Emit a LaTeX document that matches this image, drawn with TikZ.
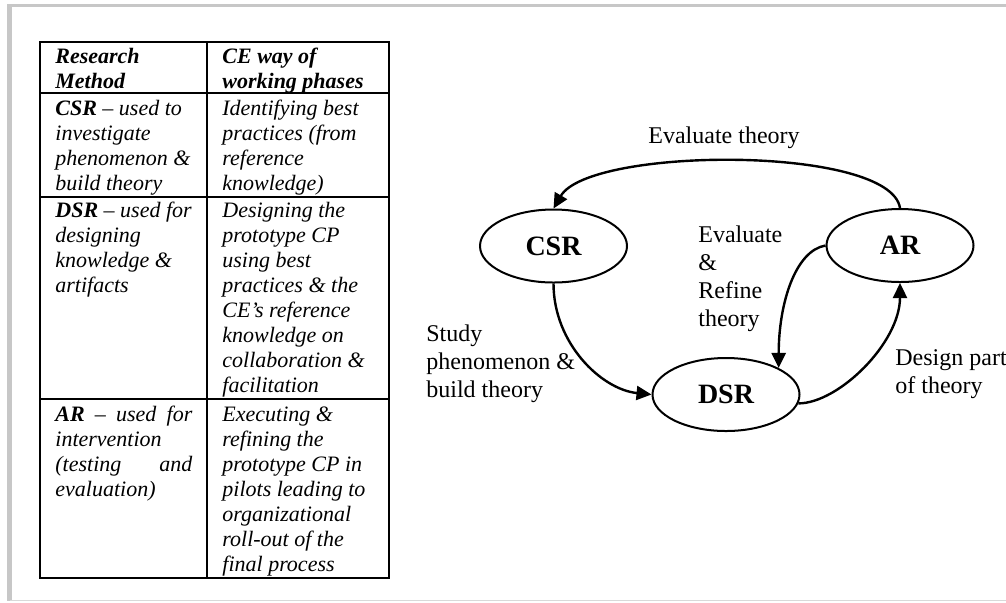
\documentclass[tikz,border=0pt]{standalone}
\usepackage{fontspec}
\setmainfont{Liberation Serif}
\usetikzlibrary{arrows.meta,shapes.geometric}

\begin{document}
\begin{tikzpicture}[x=0.5pt, y=-0.5pt,
    phase/.style={draw, ellipse, line width=1pt, minimum width=73.5pt, minimum height=36.5pt,
      inner sep=0pt, font=\fontsize{14}{16}\selectfont\bfseries},
    cell/.style={anchor=north west, inner sep=0pt, align=left,
      font=\fontsize{11}{12.5}\selectfont\itshape},
    lbl/.style={anchor=north west, inner sep=0pt, align=left,
      font=\fontsize{12}{14}\selectfont},
    flow/.style={line width=1.2pt, -{Triangle[length=7.5pt, width=7pt]}}
  ]
    \useasboundingbox (0,0) rectangle (1006,602);
    % page frame
    \draw[black!22, line width=1.5pt] (1006,5) -- (9.5,5);
    \draw[black!22, line width=2.5pt] (9.5,4) -- (9.5,601);
    \draw[black!15, line width=0.6pt] (9.5,600.5) -- (1006,600.5);

    % table
    \draw[line width=1pt] (40,42) rectangle (389,578);
    \draw[line width=1pt] (207,42) -- (207,578);
    \foreach \y in {93,197,399} {
      \draw[line width=1pt] (40,\y) -- (389,\y);
    }
    \node[cell, font=\fontsize{11}{12.5}\selectfont\bfseries\itshape] (hm) at (55,45.8)
      {\strut Research\\Method};
    \node[cell, font=\fontsize{11}{12.5}\selectfont\bfseries\itshape] (hp) at (222,45.8)
      {\strut CE way of\\working phases};
    \node[cell] (csrm) at (55,97.5)
      {\strut\textbf{CSR} -- used to\\investigate\\phenomenon \&\\build theory};
    \node[cell] (csrp) at (222,97.5)
      {\strut Identifying best\\practices (from\\reference\\knowledge)};
    \node[cell] (dsrm) at (55,199.2)
      {\strut\textbf{DSR} -- used for\\designing\\knowledge \&\\artifacts};
    \node[cell] (dsrp) at (222,199.2)
      {\strut Designing the\\prototype CP\\using best\\practices \& the\\CE’s reference\\knowledge on\\collaboration \&\\facilitation};
    \node[cell] (arm) at (55,403.2)
      {\strut\makebox[68.5pt][s]{\textbf{AR} -- used for}\\intervention\\\makebox[68.5pt][s]{(testing and}\\evaluation)};
    \node[cell] (arp) at (222,403.2)
      {\strut Executing \&\\refining the\\prototype CP in\\pilots leading to\\organizational\\roll-out of the\\final process};

    % research cycle
    \foreach \n/\x/\y in {CSR/553.5/246, DSR/726/394.5, AR/900/245.5} {
      \node[phase] (\n) at (\x,\y) {\n};
    }
    \draw[flow] (AR.north) .. controls +(-10,-63) and +(36,-62) .. (CSR.north);
    \draw[flow] (CSR.south) .. controls +(0,60) and +(-50,-5) .. (DSR.west);
    \draw[flow] (AR.west) .. controls +(-30,5) and +(0,-65) .. (DSR.north east);
    \draw[flow] (DSR.-7) .. controls +(40,0) and +(0,60) .. (AR.south);

    \node[lbl] (evth) at (648,123.7) {\strut Evaluate theory};
    \node[lbl] (evref) at (698,222.1) {\strut Evaluate\\\&\\Refine\\theory};
    \node[lbl] (study) at (426,321.1) {\strut Study\\phenomenon \&\\build theory};
    \node[lbl] (design) at (895,345.4) {\strut Design part\\of theory};
\end{tikzpicture}
\end{document}
